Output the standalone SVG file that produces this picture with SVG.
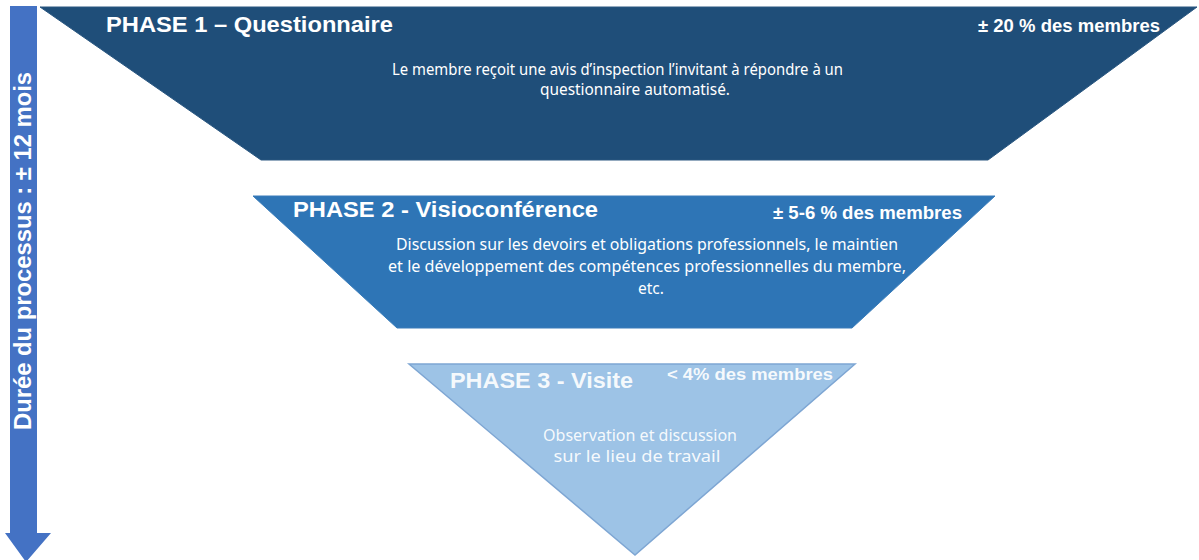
<svg xmlns="http://www.w3.org/2000/svg" width="1199" height="560" viewBox="0 0 1199 560">
<style>
.title{font-family:"Liberation Sans",Arial,sans-serif;font-weight:bold;fill:#ffffff}
.pct{font-family:"Liberation Sans",Arial,sans-serif;font-weight:bold;fill:#ffffff}
.body{font-family:"Noto Sans","Open Sans",sans-serif;fill:#ffffff;font-size:15.5px}
</style>
<rect width="1199" height="560" fill="#ffffff"/>
<g id="arrow">
<polygon points="10,6 37,6 37,533 51,533 26,562 5,533 10,533" fill="#4472C4"/>
<text class="title" transform="translate(31,251) rotate(-90)" x="0" y="0" font-size="23" text-anchor="middle" textLength="358" lengthAdjust="spacingAndGlyphs">Durée du processus : ± 12 mois</text>
</g>
<g id="phase1">
<polygon points="40,7 1197,7 988,160 261,160" fill="#1F4E79" stroke="#2a5780" stroke-width="1"/>
<text class="title" x="106" y="32" font-size="22" textLength="287" lengthAdjust="spacingAndGlyphs">PHASE 1 – Questionnaire</text>
<text class="pct" x="978" y="32" font-size="18" textLength="182" lengthAdjust="spacingAndGlyphs">± 20 % des membres</text>
<text class="body" x="392" y="75" textLength="451" lengthAdjust="spacingAndGlyphs">Le membre reçoit une avis d’inspection l’invitant à répondre à un</text>
<text class="body" x="635" y="95" text-anchor="middle" textLength="190" lengthAdjust="spacingAndGlyphs">questionnaire automatisé.</text>
</g>
<g id="phase2">
<polygon points="253,196 995,196 852,328 397,328" fill="#2E75B6" stroke="#3a7dba" stroke-width="1"/>
<text class="title" x="293" y="217" font-size="22" textLength="305" lengthAdjust="spacingAndGlyphs">PHASE 2 - Visioconférence</text>
<text class="pct" x="773" y="219" font-size="18" textLength="189" lengthAdjust="spacingAndGlyphs">± 5-6 % des membres</text>
<text class="body" x="396" y="250" textLength="502" lengthAdjust="spacingAndGlyphs">Discussion sur les devoirs et obligations professionnels, le maintien</text>
<text class="body" x="388" y="272" textLength="518" lengthAdjust="spacingAndGlyphs">et le développement des compétences professionnelles du membre,</text>
<text class="body" x="651" y="294" text-anchor="middle">etc.</text>
</g>
<g id="phase3">
<polygon points="409,364 855,364 635,555" fill="#9DC3E6" stroke="#7ea6d3" stroke-width="1.5"/>
<text class="title" x="450" y="388" font-size="22" textLength="183" lengthAdjust="spacingAndGlyphs" fill-opacity="0.92">PHASE 3 - Visite</text>
<text class="pct" x="667" y="380" font-size="17" textLength="166" lengthAdjust="spacingAndGlyphs" fill-opacity="0.92">&lt; 4% des membres</text>
<text class="body" x="640" y="441" text-anchor="middle" textLength="194" lengthAdjust="spacingAndGlyphs" fill-opacity="0.92">Observation et discussion</text>
<text class="body" x="637" y="462" text-anchor="middle" textLength="167" lengthAdjust="spacingAndGlyphs" fill-opacity="0.92">sur le lieu de travail</text>
</g>
<g id="connectors"></g>
</svg>
